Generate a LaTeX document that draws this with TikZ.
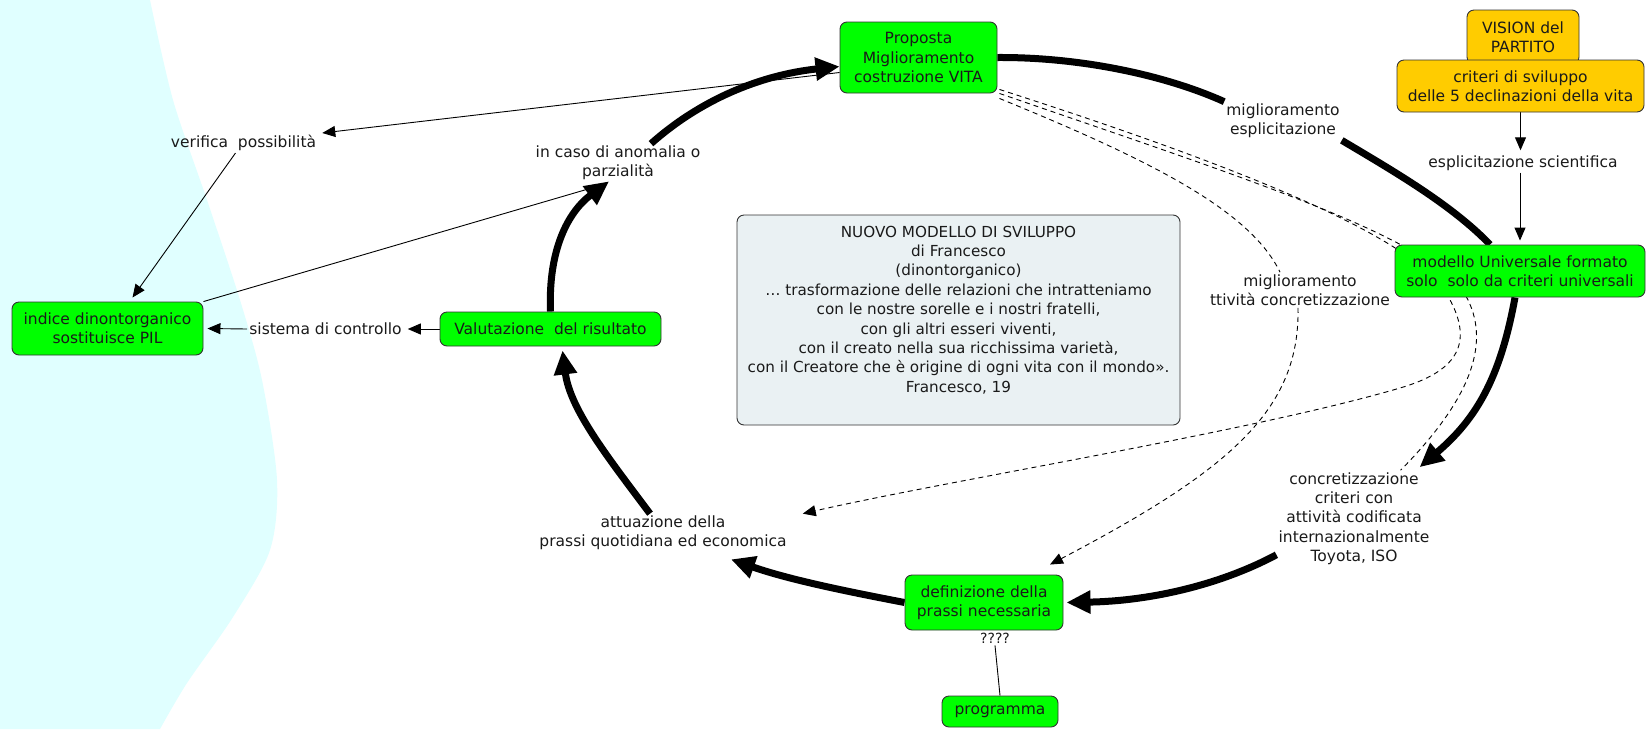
\documentclass[tikz,border=0pt]{standalone}
\usepackage{fontspec}
\setmainfont{DejaVu Sans}
\usetikzlibrary{arrows.meta}
\definecolor{cgreen}{HTML}{00FF00}
\definecolor{corange}{HTML}{FFCC00}
\definecolor{cbg}{HTML}{E0FFFF}
\definecolor{cnote}{HTML}{EAF1F3}
\definecolor{ctext}{HTML}{1A1A1A}
\pgfdeclarelayer{bg}
\pgfdeclarelayer{edges}
\pgfsetlayers{bg,edges,main}
\newcommand{\fsz}{\fontsize{15.5}{19.3}\selectfont}
\tikzset{
  every node/.style={font=\fsz, text=ctext},
  concept/.style={draw=black!80, fill=cgreen, rounded corners=7pt, line width=0.9pt, align=center, inner sep=2pt},
  lab/.style={align=center, inner sep=2pt},
  thickc/.style={line width=7pt},
  thicka/.style={line width=7pt, -{Triangle[length=24pt,width=22pt]}},
  thinc/.style={line width=0.9pt},
  thina/.style={line width=0.9pt, -{Triangle[length=13pt,width=11pt]}},
  dashc/.style={line width=0.9pt, dash pattern=on 5pt off 4pt},
  dasha/.style={dashc, -{Triangle[length=13pt,width=11pt]}}
}
\begin{document}
\begin{tikzpicture}[x=1pt,y=-1pt]
\useasboundingbox (0,0) rectangle (1647,729);
\begin{pgfonlayer}{bg}
\fill[white] (0,0) rectangle (1647,729);
\fill[cbg] (0,0) -- plot[smooth] coordinates {(150,0) (173,100) (207,200) (240,300) (262,380) (277,480) (270,550) (233,617) (187,683) (160,729)} -- (0,729) -- cycle;
\end{pgfonlayer}

% concepts
\node[concept, minimum width=157, minimum height=71] (prop) at (918.5,57.5) {Proposta\\Miglioramento\\costruzione VITA};
\node[concept, fill=corange, minimum width=112, minimum height=54] (vision) at (1523,37) {VISION del\\PARTITO};
\node[concept, fill=corange, minimum width=247, minimum height=52] (criteri) at (1520.5,86) {criteri di sviluppo\\delle 5 declinazioni della vita};
\node[concept, minimum width=250, minimum height=52] (modello) at (1520,271) {modello Universale formato\\solo\ \ solo da criteri universali};
\node[concept, minimum width=191, minimum height=53] (indice) at (107.5,328.5) {indice dinontorganico\\sostituisce PIL};
\node[concept, minimum width=221, minimum height=34] (valut) at (550.5,329) {Valutazione\ \ del risultato};
\node[concept, minimum width=158, minimum height=55] (defin) at (984,602.5) {definizione della\\prassi necessaria};
\node[concept, minimum width=116, minimum height=31] (progr) at (1000,711.5) {programma};
\node[draw=black!80, fill=cnote, rounded corners=7pt, line width=0.9pt, inner sep=0pt] (nuovo) at (958.5,320)
  {\begin{minipage}[c][210pt][t]{443pt}\centering\fontsize{15.2}{19.4}\selectfont
  \rule{0pt}{22pt}NUOVO MODELLO DI SVILUPPO\\
  di Francesco\\
  (dinontorganico)\\
  … trasformazione delle relazioni che intratteniamo\\
  con le nostre sorelle e i nostri fratelli,\\
  con gli altri esseri viventi,\\
  con il creato nella sua ricchissima varietà,\\
  con il Creatore che è origine di ogni vita con il mondo».\\
  Francesco, 19
  \end{minipage}};

% linking phrases
\node[lab] (verif) at (243.5,143) {verifica\ \ possibilità};
\node[lab] (incaso) at (618,163) {in caso di anomalia o\\parzialità};
\node[lab] (miglEsp) at (1283,121) {miglioramento\\esplicitazione};
\node[lab] (esplSci) at (1523,163) {esplicitazione scientifica};
\node[lab] (miglAtt) at (1300,290) {miglioramento\\ttività concretizzazione};
\node[lab] (sistema) at (325.5,329) {sistema di controllo};
\node[lab] (attuaz) at (663,533) {attuazione della\\prassi quotidiana ed economica};
\node[lab] (concr) at (1354,518.5) {concretizzazione\\criteri con\\attività codificata\\internazionalmente\\Toyota, ISO};
\node[lab, font=\fontsize{14}{16}\selectfont] (quest) at (995,638) {????};

\begin{pgfonlayer}{edges}
% thick cycle
\draw[thickc] (prop.east) .. controls (1080,57) and (1165,75) .. (miglEsp.north west);
\draw[thickc] (miglEsp.south east) .. controls (1395,172) and (1452,205) .. ([xshift=-30pt]modello.north);
\draw[thicka] ([xshift=-5pt]modello.south) .. controls (1500,380) and (1475,420) .. ([xshift=-12pt,yshift=3pt]concr.north east);
\draw[thicka] ([yshift=12pt]concr.south west) .. controls (1220,585) and (1150,601) .. ([xshift=3pt]defin.east);
\draw[thicka] (defin.west) .. controls (850,592) and (790,580) .. ([xshift=68pt,yshift=-7pt]attuaz.south);
\draw[thicka] ([xshift=-13pt]attuaz.north) .. controls (610,460) and (570,410) .. ([xshift=12pt,yshift=-4pt]valut.south);
\draw[thicka] (valut.north) .. controls (548,250) and (568,212) .. ([xshift=-9pt,yshift=1pt]incaso.south);
\draw[thicka] ([xshift=33pt]incaso.north) .. controls (700,100) and (760,75) .. ([yshift=-9pt]prop.west);
% thin
\draw[thina] ([yshift=-15pt]prop.west) -- ([xshift=4pt,yshift=10pt]verif.east);
\draw[thina] ([xshift=-8pt]verif.south) -- ([xshift=25pt,yshift=4pt]indice.north);
\draw[thinc] (indice.north east) -- ([xshift=-14pt,yshift=-2pt]incaso.south);
\draw[thina] (valut.west) -- ([xshift=4pt]sistema.east);
\draw[thina] (sistema.west) -- ([xshift=4pt]indice.east);
\draw[thina] (criteri.south) -- ([yshift=3pt]criteri.south |- esplSci.north);
\draw[thina] (modello.north |- esplSci.south) -- ([yshift=4pt]modello.north);
\draw[thinc] (quest.south) -- (progr.north);
% dashed
\draw[dashc] ([xshift=2pt,yshift=-5pt]prop.south east) .. controls (1150,160) and (1250,210) .. ([xshift=-20pt]miglAtt.north);
\draw[dasha] ([xshift=-2pt]miglAtt.south) .. controls (1300,410) and (1230,470) .. ([xshift=66pt,yshift=10pt]defin.north);
\draw[dasha] ([xshift=2pt,yshift=4pt]prop.south east) .. controls (1250,170) and (1420,240) .. (1449,298)
   .. controls (1475,345) and (1455,372) .. (1400,388) .. controls (1250,432) and (950,480) .. ([xshift=14pt]attuaz.north east);
\draw[dashc] ([xshift=2pt]prop.south east) .. controls (1250,180) and (1440,240) .. (1468,300)
   .. controls (1490,345) and (1470,400) .. ([xshift=-31pt]concr.north east);
\end{pgfonlayer}
\end{tikzpicture}
\end{document}
